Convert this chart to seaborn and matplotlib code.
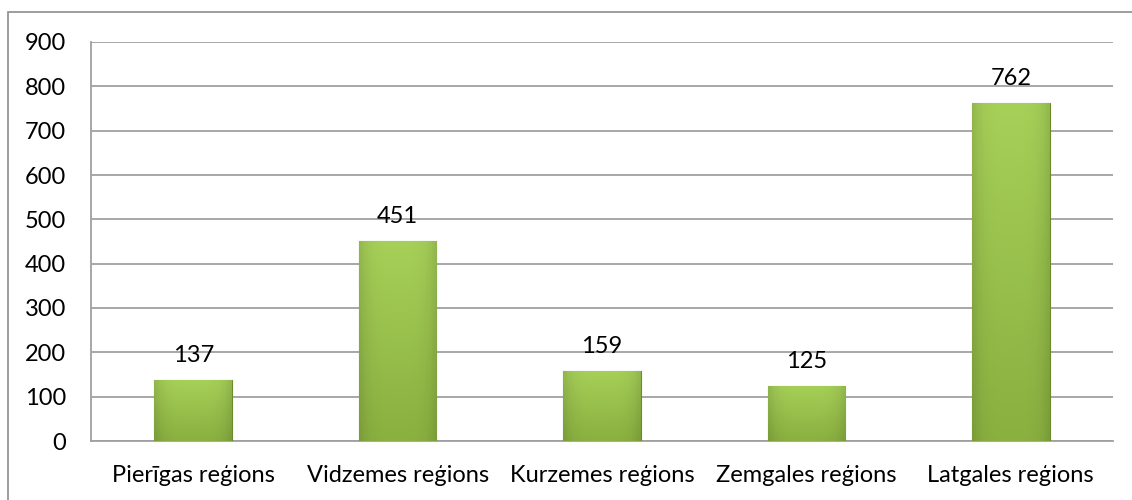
import matplotlib
matplotlib.use('Agg')
import matplotlib.pyplot as plt
import seaborn as sns
import pandas as pd
import numpy as np
from matplotlib.patches import Rectangle
from matplotlib.colors import to_rgb

regions = ['Pierīgas reģions', 'Vidzemes reģions', 'Kurzemes reģions', 'Zemgales reģions', 'Latgales reģions']
values = [137, 451, 159, 125, 762]
y_ticks = [0, 100, 200, 300, 400, 500, 600, 700, 800, 900]

df = pd.DataFrame({'region': regions, 'value': values})

sns.set_style('white')
plt.rcParams['font.family'] = ['Lato', 'DejaVu Sans']

fig = plt.figure(figsize=(11.32, 5), dpi=100)
ax = fig.add_axes([0.0804, 0.118, 0.9028, 0.798])

sns.barplot(data=df, x='region', y='value', color='#9BC64A', width=0.38,
            saturation=1, edgecolor='#6A8A2C', linewidth=0.8, ax=ax, zorder=3)

# soft shading inside each bar: slightly darker toward the sides and bottom
top = np.array(to_rgb('#A6D058'))
bot = np.array(to_rgb('#8AB040'))
xs = np.linspace(-1, 1, 64)
side = 1 - 0.12 * np.abs(xs) ** 4
ys = np.linspace(0, 1, 128).reshape(-1, 1, 1)
shade = (bot + (top - bot) * ys) * side.reshape(1, -1, 1)
shade = np.clip(shade, 0, 1)
for p in ax.patches:
    x0, y0 = p.get_x(), p.get_y()
    w, h = p.get_width(), p.get_height()
    im = ax.imshow(shade, origin='lower', aspect='auto',
                   extent=[x0, x0 + w, y0, y0 + h], zorder=3.5)
    im.set_clip_path(p)

for i, v in enumerate(values):
    ax.annotate(str(v), (i, v), xytext=(0, 10), textcoords='offset points',
                ha='center', va='bottom', fontsize=17, color='black')

ax.set_ylim(0, 900)
ax.set_yticks(y_ticks)
ax.set_xlim(-0.5, len(regions) - 0.5)
ax.yaxis.grid(True, color='#A0A0A0', linewidth=1.3, zorder=0)
ax.set_axisbelow(True)
ax.tick_params(axis='both', length=0, labelsize=17, colors='black')
ax.tick_params(axis='x', pad=17)
ax.tick_params(axis='y', pad=18)
ax.set_xlabel('')
ax.set_ylabel('')
for s in ['top', 'right']:
    ax.spines[s].set_visible(False)
for s in ['left', 'bottom']:
    ax.spines[s].set_color('#A0A0A0')
    ax.spines[s].set_linewidth(1.3)

# outer chart frame
fig.patches.append(Rectangle((8 / 1132, -0.1), 1.2, 1.1 - 12 / 500, transform=fig.transFigure,
                             fill=False, edgecolor='#8C8C8C', linewidth=1.2))

fig.savefig('out.png', dpi=100)
